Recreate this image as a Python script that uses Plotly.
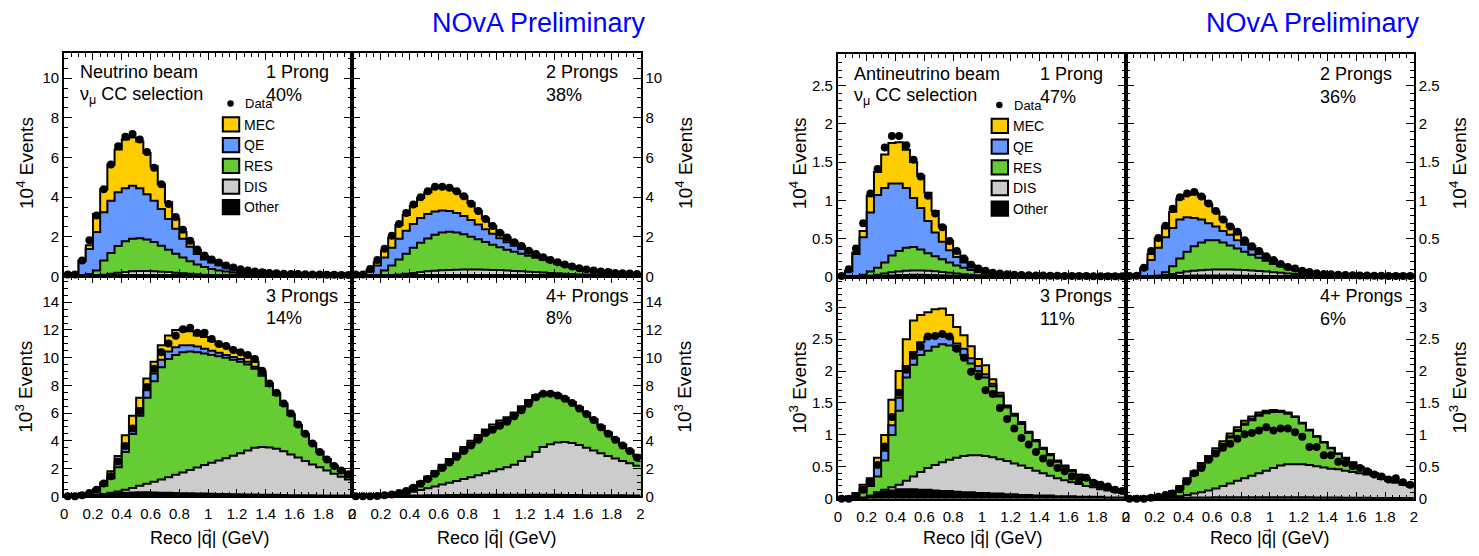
import numpy as np
import plotly.graph_objects as go

W, H = 1479, 556
FONT = "Liberation Sans, Arial, sans-serif"

BIN_WIDTH = 0.05
N_BINS = 40
BIN_EDGES = np.round(np.arange(N_BINS + 1) * BIN_WIDTH, 4)
BIN_CENTERS = BIN_EDGES[:-1] + BIN_WIDTH / 2

# ---------------- Neutrino beam (top: x10^4, bottom: x10^3) ----------------
# 1 Prong
DATA_A = [0.10, 0.10, 0.80, 1.83, 3.07, 4.40, 5.65, 6.56, 7.04, 7.18,
          6.90, 6.28, 5.48, 4.65, 3.65, 3.00, 2.36, 1.80, 1.36, 1.06,
          0.86, 0.70, 0.55, 0.45, 0.37, 0.30, 0.25, 0.21, 0.18, 0.16,
          0.14, 0.13, 0.12, 0.11, 0.10, 0.10, 0.09, 0.09, 0.08, 0.08]
TOT_A = [0.05, 0.10, 0.80, 1.58, 3.15, 4.40, 5.65, 6.40, 6.90, 7.00,
         6.80, 6.23, 5.56, 4.65, 3.74, 2.90, 2.24, 1.74, 1.33, 1.03,
         0.83, 0.66, 0.53, 0.43, 0.35, 0.28, 0.23, 0.19, 0.16, 0.14,
         0.12, 0.11, 0.10, 0.09, 0.08, 0.08, 0.07, 0.07, 0.06, 0.06]
QE_A = [0.05, 0.10, 0.78, 1.38, 2.24, 3.24, 3.82, 4.24, 4.45, 4.57,
        4.45, 4.15, 3.82, 3.40, 2.90, 2.40, 1.90, 1.50, 1.13, 0.86,
        0.70, 0.56, 0.45, 0.37, 0.30, 0.25, 0.20, 0.17, 0.14, 0.12,
        0.10, 0.09, 0.08, 0.08, 0.07, 0.07, 0.06, 0.06, 0.05, 0.05]
RES_A = [0.00, 0.00, 0.05, 0.12, 0.30, 0.80, 1.18, 1.53, 1.78, 1.90,
         1.93, 1.86, 1.74, 1.55, 1.35, 1.15, 0.96, 0.77, 0.60, 0.48,
         0.38, 0.30, 0.25, 0.20, 0.16, 0.13, 0.11, 0.09, 0.08, 0.07,
         0.06, 0.05, 0.05, 0.04, 0.04, 0.04, 0.03, 0.03, 0.03, 0.03]
DIS_A = [0.00, 0.00, 0.00, 0.02, 0.05, 0.09, 0.14, 0.19, 0.23, 0.26,
         0.27, 0.27, 0.26, 0.24, 0.22, 0.19, 0.16, 0.14, 0.11, 0.09,
         0.07, 0.06, 0.05, 0.04, 0.03, 0.03, 0.02, 0.02, 0.02, 0.02,
         0.01, 0.01, 0.01, 0.01, 0.01, 0.01, 0.01, 0.01, 0.01, 0.01]
OTH_A = [0.00, 0.00, 0.00, 0.00, 0.01, 0.02, 0.04, 0.05, 0.06, 0.07,
         0.07, 0.07, 0.07, 0.06, 0.06, 0.05, 0.04, 0.04, 0.03, 0.03,
         0.02, 0.02, 0.02, 0.01, 0.01, 0.01, 0.01, 0.01, 0.01, 0.01,
         0.00, 0.00, 0.00, 0.00, 0.00, 0.00, 0.00, 0.00, 0.00, 0.00]
# 2 Prongs
DATA_B = [0.10, 0.10, 0.38, 0.83, 1.40, 2.05, 2.65, 3.20, 3.63, 4.00,
          4.30, 4.52, 4.52, 4.47, 4.30, 4.05, 3.67, 3.30, 2.90, 2.55,
          2.20, 1.97, 1.72, 1.53, 1.30, 1.13, 0.97, 0.83, 0.72, 0.60,
          0.50, 0.42, 0.35, 0.30, 0.25, 0.22, 0.18, 0.16, 0.15, 0.13]
TOT_B = [0.08, 0.10, 0.32, 0.72, 1.30, 1.95, 2.60, 3.10, 3.55, 3.95,
         4.25, 4.45, 4.50, 4.45, 4.30, 4.05, 3.70, 3.30, 2.92, 2.55,
         2.22, 1.97, 1.73, 1.52, 1.31, 1.13, 0.97, 0.83, 0.71, 0.60,
         0.50, 0.42, 0.36, 0.30, 0.26, 0.22, 0.19, 0.17, 0.15, 0.13]
QE_B = [0.08, 0.10, 0.25, 0.55, 0.95, 1.45, 1.90, 2.30, 2.65, 2.95,
        3.15, 3.28, 3.32, 3.30, 3.20, 3.05, 2.85, 2.62, 2.38, 2.15,
        1.93, 1.73, 1.55, 1.38, 1.21, 1.06, 0.92, 0.79, 0.68, 0.58,
        0.48, 0.40, 0.34, 0.29, 0.25, 0.21, 0.18, 0.16, 0.14, 0.12]
RES_B = [0.00, 0.00, 0.02, 0.08, 0.30, 0.55, 0.85, 1.15, 1.45, 1.70,
         1.92, 2.10, 2.22, 2.25, 2.22, 2.13, 2.00, 1.87, 1.74, 1.60,
         1.47, 1.35, 1.24, 1.14, 1.04, 0.94, 0.84, 0.74, 0.64, 0.55,
         0.46, 0.39, 0.33, 0.28, 0.24, 0.20, 0.17, 0.15, 0.13, 0.11]
DIS_B = [0.00, 0.00, 0.00, 0.01, 0.03, 0.06, 0.10, 0.14, 0.18, 0.22,
         0.26, 0.29, 0.31, 0.33, 0.34, 0.35, 0.35, 0.35, 0.34, 0.33,
         0.32, 0.30, 0.28, 0.26, 0.24, 0.22, 0.20, 0.18, 0.16, 0.14,
         0.12, 0.10, 0.09, 0.08, 0.07, 0.06, 0.05, 0.05, 0.04, 0.04]
OTH_B = [0.00, 0.00, 0.00, 0.00, 0.01, 0.02, 0.03, 0.04, 0.05, 0.06,
         0.07, 0.07, 0.08, 0.08, 0.08, 0.08, 0.08, 0.07, 0.07, 0.07,
         0.06, 0.06, 0.05, 0.05, 0.04, 0.04, 0.04, 0.03, 0.03, 0.03,
         0.02, 0.02, 0.02, 0.02, 0.02, 0.01, 0.01, 0.01, 0.01, 0.01]
# 3 Prongs
DATA_C = [0.00, 0.00, 0.07, 0.24, 0.47, 0.92, 1.45, 2.50, 3.62, 4.88,
          6.15, 7.88, 9.20, 10.39, 11.03, 11.58, 12.05, 12.15, 11.80, 11.80,
          11.34, 10.99, 10.85, 10.56, 10.39, 10.20, 9.90, 9.06, 8.14, 7.47,
          6.69, 5.98, 5.17, 4.51, 3.80, 3.20, 2.66, 2.18, 1.85, 1.59]
TOT_C = [0.00, 0.00, 0.05, 0.20, 0.50, 1.00, 1.80, 2.90, 4.40, 5.80,
         7.10, 8.50, 9.70, 10.90, 11.60, 12.00, 12.05, 11.90, 11.60, 11.50,
         11.20, 10.95, 10.80, 10.55, 10.35, 10.10, 9.70, 9.00, 8.15, 7.45,
         6.70, 5.95, 5.15, 4.50, 3.82, 3.22, 2.68, 2.20, 1.85, 1.55]
QE_C = [0.00, 0.00, 0.05, 0.19, 0.45, 0.88, 1.55, 2.45, 3.65, 5.00,
        6.35, 7.65, 8.85, 9.85, 10.45, 10.75, 10.90, 10.90, 10.80, 10.65,
        10.50, 10.35, 10.20, 10.05, 9.90, 9.70, 9.35, 8.80, 8.02, 7.36,
        6.62, 5.88, 5.12, 4.48, 3.80, 3.21, 2.67, 2.19, 1.84, 1.54]
RES_C = [0.00, 0.00, 0.04, 0.17, 0.40, 0.75, 1.30, 2.10, 3.20, 4.50,
         5.80, 7.10, 8.30, 9.30, 9.90, 10.20, 10.40, 10.45, 10.40, 10.30,
         10.20, 10.10, 10.00, 9.85, 9.70, 9.50, 9.20, 8.70, 7.95, 7.30,
         6.58, 5.85, 5.10, 4.46, 3.79, 3.20, 2.66, 2.18, 1.83, 1.53]
DIS_C = [0.00, 0.00, 0.02, 0.05, 0.10, 0.17, 0.25, 0.35, 0.47, 0.60,
         0.75, 0.90, 1.05, 1.20, 1.38, 1.55, 1.72, 1.90, 2.08, 2.26,
         2.42, 2.58, 2.75, 2.92, 3.10, 3.30, 3.50, 3.56, 3.52, 3.42,
         3.25, 3.02, 2.80, 2.55, 2.30, 2.10, 1.85, 1.62, 1.40, 1.20]
OTH_C = [0.00, 0.00, 0.00, 0.02, 0.06, 0.12, 0.18, 0.22, 0.25, 0.27,
         0.28, 0.28, 0.27, 0.26, 0.25, 0.24, 0.22, 0.21, 0.20, 0.19,
         0.18, 0.17, 0.16, 0.15, 0.14, 0.13, 0.12, 0.11, 0.10, 0.10,
         0.09, 0.08, 0.08, 0.07, 0.07, 0.06, 0.06, 0.05, 0.05, 0.05]
# 4+ Prongs
DATA_D = [0.00, 0.00, 0.00, 0.02, 0.07, 0.12, 0.24, 0.38, 0.61, 0.90,
          1.25, 1.63, 2.03, 2.43, 2.83, 3.26, 3.66, 4.08, 4.56, 4.79,
          5.08, 5.38, 5.78, 6.21, 6.68, 7.15, 7.39, 7.39, 7.27, 7.03,
          6.73, 6.33, 5.93, 5.50, 4.98, 4.51, 4.08, 3.66, 3.26, 2.79]
TOT_D = [0.00, 0.00, 0.00, 0.03, 0.08, 0.15, 0.25, 0.42, 0.70, 1.05,
         1.42, 1.83, 2.27, 2.68, 3.10, 3.55, 4.00, 4.42, 4.82, 5.17,
         5.47, 5.70, 6.05, 6.50, 6.95, 7.30, 7.45, 7.47, 7.35, 7.10,
         6.80, 6.42, 6.00, 5.56, 5.07, 4.60, 4.15, 3.72, 3.30, 2.90]
QE_D = [0.00, 0.00, 0.00, 0.02, 0.07, 0.13, 0.22, 0.37, 0.62, 0.95,
        1.30, 1.70, 2.12, 2.52, 2.93, 3.36, 3.80, 4.22, 4.62, 4.98,
        5.30, 5.55, 5.93, 6.40, 6.87, 7.22, 7.39, 7.42, 7.32, 7.08,
        6.78, 6.41, 5.99, 5.55, 5.06, 4.59, 4.14, 3.71, 3.29, 2.89]
RES_D = [0.00, 0.00, 0.00, 0.02, 0.06, 0.11, 0.19, 0.33, 0.57, 0.88,
         1.22, 1.60, 2.02, 2.42, 2.82, 3.25, 3.69, 4.10, 4.50, 4.86,
         5.18, 5.45, 5.85, 6.32, 6.80, 7.17, 7.35, 7.39, 7.30, 7.06,
         6.77, 6.40, 5.98, 5.55, 5.06, 4.59, 4.14, 3.71, 3.29, 2.89]
DIS_D = [0.00, 0.00, 0.00, 0.00, 0.02, 0.06, 0.12, 0.20, 0.32, 0.45,
         0.58, 0.70, 0.84, 0.97, 1.10, 1.25, 1.38, 1.52, 1.66, 1.80,
         1.95, 2.10, 2.28, 2.55, 2.85, 3.20, 3.55, 3.75, 3.88, 3.92,
         3.85, 3.70, 3.50, 3.30, 3.10, 2.90, 2.72, 2.55, 2.38, 2.20]
OTH_D = [0.00, 0.00, 0.00, 0.00, 0.01, 0.02, 0.03, 0.04, 0.05, 0.06,
         0.07, 0.08, 0.08, 0.09, 0.09, 0.10, 0.10, 0.10, 0.10, 0.10,
         0.10, 0.10, 0.10, 0.10, 0.10, 0.10, 0.10, 0.10, 0.10, 0.09,
         0.09, 0.09, 0.08, 0.08, 0.08, 0.07, 0.07, 0.07, 0.06, 0.06]

# ---------------- Antineutrino beam ----------------
# 1 Prong
DATA_E = [0.013, 0.10, 0.37, 0.70, 1.09, 1.41, 1.69, 1.84, 1.84, 1.72,
          1.53, 1.31, 1.06, 0.83, 0.65, 0.47, 0.34, 0.24, 0.16, 0.11,
          0.08, 0.056, 0.045, 0.035, 0.03, 0.025, 0.022, 0.02, 0.018, 0.016,
          0.015, 0.014, 0.013, 0.012, 0.011, 0.01, 0.01, 0.01, 0.01, 0.009]
TOT_E = [0.01, 0.08, 0.32, 0.60, 1.06, 1.37, 1.60, 1.75, 1.76, 1.66,
         1.50, 1.32, 1.10, 0.86, 0.66, 0.47, 0.33, 0.24, 0.16, 0.11,
         0.08, 0.055, 0.042, 0.033, 0.027, 0.023, 0.02, 0.018, 0.016, 0.015,
         0.014, 0.013, 0.012, 0.011, 0.01, 0.01, 0.009, 0.009, 0.008, 0.008]
QE_E = [0.01, 0.07, 0.30, 0.52, 0.84, 1.07, 1.16, 1.22, 1.22, 1.16,
        1.03, 0.90, 0.73, 0.58, 0.46, 0.35, 0.26, 0.19, 0.13, 0.09,
        0.065, 0.045, 0.035, 0.028, 0.023, 0.02, 0.017, 0.015, 0.014, 0.013,
        0.012, 0.011, 0.01, 0.01, 0.009, 0.009, 0.008, 0.008, 0.007, 0.007]
RES_E = [0.0, 0.0, 0.01, 0.03, 0.07, 0.12, 0.19, 0.28, 0.34, 0.38,
         0.39, 0.36, 0.31, 0.27, 0.23, 0.19, 0.15, 0.12, 0.09, 0.065,
         0.045, 0.032, 0.024, 0.018, 0.014, 0.011, 0.009, 0.008, 0.007, 0.006,
         0.006, 0.005, 0.005, 0.005, 0.004, 0.004, 0.004, 0.004, 0.003, 0.003]
DIS_E = [0.0, 0.0, 0.0, 0.005, 0.015, 0.03, 0.045, 0.06, 0.07, 0.08,
         0.085, 0.085, 0.08, 0.075, 0.065, 0.055, 0.045, 0.035, 0.028, 0.022,
         0.017, 0.013, 0.01, 0.008, 0.006, 0.005, 0.004, 0.004, 0.003, 0.003,
         0.003, 0.002, 0.002, 0.002, 0.002, 0.002, 0.002, 0.002, 0.001, 0.001]
OTH_E = [0.0, 0.0, 0.0, 0.002, 0.005, 0.01, 0.015, 0.02, 0.025, 0.027,
         0.028, 0.028, 0.027, 0.025, 0.022, 0.019, 0.016, 0.013, 0.01, 0.008,
         0.006, 0.005, 0.004, 0.003, 0.002, 0.002, 0.002, 0.001, 0.001, 0.001,
         0.001, 0.001, 0.001, 0.001, 0.001, 0.001, 0.001, 0.001, 0.0, 0.0]
# 2 Prongs
DATA_F = [0.013, 0.017, 0.12, 0.34, 0.51, 0.67, 0.89, 1.04, 1.09, 1.11,
          1.05, 0.96, 0.86, 0.75, 0.66, 0.59, 0.48, 0.40, 0.34, 0.27,
          0.22, 0.17, 0.13, 0.11, 0.08, 0.065, 0.05, 0.04, 0.035, 0.03,
          0.025, 0.022, 0.02, 0.018, 0.016, 0.015, 0.014, 0.013, 0.012, 0.012]
TOT_F = [0.01, 0.015, 0.12, 0.30, 0.50, 0.66, 0.85, 1.02, 1.07, 1.10,
         1.05, 0.95, 0.85, 0.75, 0.66, 0.57, 0.48, 0.40, 0.33, 0.27,
         0.22, 0.17, 0.13, 0.105, 0.08, 0.063, 0.05, 0.04, 0.034, 0.028,
         0.024, 0.021, 0.019, 0.017, 0.015, 0.014, 0.013, 0.012, 0.011, 0.011]
QE_F = [0.01, 0.015, 0.10, 0.22, 0.38, 0.52, 0.64, 0.75, 0.78, 0.77,
        0.75, 0.70, 0.66, 0.60, 0.55, 0.48, 0.42, 0.36, 0.30, 0.25,
        0.20, 0.16, 0.12, 0.10, 0.075, 0.06, 0.047, 0.038, 0.032, 0.027,
        0.023, 0.02, 0.018, 0.016, 0.014, 0.013, 0.012, 0.011, 0.01, 0.01]
RES_F = [0.0, 0.0, 0.0, 0.01, 0.02, 0.06, 0.14, 0.24, 0.33, 0.40,
         0.45, 0.48, 0.48, 0.45, 0.41, 0.37, 0.33, 0.29, 0.25, 0.21,
         0.17, 0.14, 0.11, 0.09, 0.07, 0.055, 0.043, 0.035, 0.029, 0.025,
         0.021, 0.018, 0.016, 0.014, 0.013, 0.012, 0.011, 0.01, 0.009, 0.009]
DIS_F = [0.0, 0.0, 0.0, 0.005, 0.01, 0.025, 0.04, 0.055, 0.07, 0.08,
         0.088, 0.094, 0.097, 0.098, 0.097, 0.094, 0.09, 0.085, 0.078, 0.07,
         0.062, 0.054, 0.046, 0.039, 0.033, 0.027, 0.022, 0.018, 0.015, 0.013,
         0.011, 0.01, 0.009, 0.008, 0.007, 0.006, 0.006, 0.005, 0.005, 0.005]
OTH_F = [0.0, 0.0, 0.0, 0.002, 0.004, 0.008, 0.011, 0.014, 0.016, 0.018,
         0.019, 0.02, 0.02, 0.02, 0.019, 0.018, 0.017, 0.016, 0.014, 0.012,
         0.01, 0.009, 0.008, 0.007, 0.006, 0.005, 0.004, 0.004, 0.003, 0.003,
         0.003, 0.002, 0.002, 0.002, 0.002, 0.002, 0.002, 0.001, 0.001, 0.001]
# 3 Prongs
DATA_G = [0.0, 0.0, 0.04, 0.14, 0.27, 0.53, 0.82, 1.28, 1.66, 2.02,
          2.24, 2.38, 2.54, 2.55, 2.58, 2.54, 2.35, 2.21, 1.99, 1.92,
          1.70, 1.64, 1.42, 1.25, 1.10, 0.95, 0.85, 0.73, 0.63, 0.56,
          0.48, 0.43, 0.35, 0.29, 0.33, 0.25, 0.22, 0.19, 0.14, 0.12]
TOT_G = [0.0, 0.0, 0.09, 0.22, 0.32, 0.64, 1.00, 1.55, 2.00, 2.50,
         2.79, 2.88, 2.92, 2.97, 2.98, 2.88, 2.69, 2.56, 2.39, 2.19,
         2.09, 1.87, 1.66, 1.46, 1.33, 1.20, 1.05, 0.92, 0.80, 0.70,
         0.60, 0.52, 0.45, 0.38, 0.32, 0.27, 0.22, 0.18, 0.15, 0.12]
QE_G = [0.0, 0.0, 0.06, 0.15, 0.28, 0.50, 0.75, 1.15, 1.58, 2.08,
        2.30, 2.45, 2.52, 2.55, 2.58, 2.52, 2.43, 2.35, 2.20, 2.08,
        1.95, 1.80, 1.62, 1.44, 1.31, 1.18, 1.04, 0.91, 0.79, 0.69,
        0.59, 0.51, 0.44, 0.37, 0.31, 0.26, 0.21, 0.17, 0.14, 0.11]
RES_G = [0.0, 0.0, 0.02, 0.10, 0.20, 0.35, 0.60, 1.00, 1.38, 1.90,
         2.10, 2.25, 2.32, 2.38, 2.42, 2.40, 2.33, 2.25, 2.12, 2.00,
         1.90, 1.76, 1.60, 1.43, 1.30, 1.17, 1.03, 0.90, 0.78, 0.68,
         0.58, 0.50, 0.43, 0.36, 0.30, 0.25, 0.20, 0.16, 0.13, 0.10]
DIS_G = [0.0, 0.0, 0.0, 0.02, 0.05, 0.10, 0.14, 0.18, 0.22, 0.28,
         0.35, 0.42, 0.48, 0.53, 0.57, 0.61, 0.64, 0.67, 0.68, 0.68,
         0.67, 0.65, 0.62, 0.59, 0.55, 0.52, 0.48, 0.44, 0.40, 0.36,
         0.32, 0.29, 0.26, 0.23, 0.20, 0.18, 0.15, 0.13, 0.11, 0.09]
OTH_G = [0.0, 0.0, 0.0, 0.01, 0.04, 0.08, 0.11, 0.13, 0.15, 0.15,
         0.15, 0.14, 0.14, 0.13, 0.12, 0.12, 0.11, 0.10, 0.10, 0.09,
         0.09, 0.08, 0.08, 0.07, 0.07, 0.06, 0.06, 0.05, 0.05, 0.05,
         0.04, 0.04, 0.04, 0.03, 0.03, 0.03, 0.03, 0.02, 0.02, 0.02]
# 4+ Prongs
DATA_H = [0.0, 0.0, 0.0, 0.015, 0.03, 0.06, 0.08, 0.15, 0.27, 0.40,
          0.48, 0.61, 0.71, 0.80, 0.86, 0.94, 1.01, 1.03, 1.07, 1.12,
          1.07, 1.10, 1.10, 1.04, 0.97, 0.81, 0.81, 0.68, 0.68, 0.58,
          0.56, 0.51, 0.48, 0.43, 0.38, 0.35, 0.30, 0.32, 0.26, 0.22]
TOT_H = [0.0, 0.0, 0.0, 0.01, 0.03, 0.06, 0.12, 0.20, 0.32, 0.43,
         0.56, 0.67, 0.79, 0.90, 1.02, 1.12, 1.22, 1.29, 1.35, 1.38,
         1.39, 1.38, 1.35, 1.29, 1.19, 1.08, 0.98, 0.89, 0.80, 0.71,
         0.64, 0.57, 0.50, 0.45, 0.40, 0.35, 0.31, 0.27, 0.24, 0.21]
QE_H = [0.0, 0.0, 0.0, 0.01, 0.025, 0.055, 0.11, 0.18, 0.29, 0.39,
        0.52, 0.63, 0.75, 0.86, 0.98, 1.08, 1.18, 1.25, 1.32, 1.36,
        1.375, 1.37, 1.34, 1.285, 1.185, 1.075, 0.975, 0.885, 0.795, 0.705,
        0.635, 0.565, 0.495, 0.445, 0.395, 0.345, 0.305, 0.265, 0.235, 0.205]
RES_H = [0.0, 0.0, 0.0, 0.01, 0.02, 0.05, 0.10, 0.16, 0.27, 0.37,
         0.50, 0.61, 0.73, 0.84, 0.96, 1.06, 1.16, 1.23, 1.30, 1.34,
         1.36, 1.36, 1.33, 1.28, 1.18, 1.07, 0.97, 0.88, 0.79, 0.70,
         0.63, 0.56, 0.49, 0.44, 0.39, 0.34, 0.30, 0.26, 0.23, 0.20]
DIS_H = [0.0, 0.0, 0.0, 0.0, 0.01, 0.02, 0.03, 0.04, 0.06, 0.08,
         0.10, 0.13, 0.16, 0.20, 0.24, 0.28, 0.32, 0.36, 0.40, 0.44,
         0.48, 0.52, 0.54, 0.54, 0.54, 0.53, 0.51, 0.49, 0.47, 0.46,
         0.44, 0.42, 0.40, 0.38, 0.36, 0.31, 0.28, 0.25, 0.22, 0.19]
OTH_H = [0.0, 0.0, 0.0, 0.0, 0.003, 0.006, 0.01, 0.013, 0.016, 0.018,
         0.02, 0.021, 0.022, 0.023, 0.024, 0.024, 0.025, 0.025, 0.025, 0.025,
         0.025, 0.025, 0.024, 0.024, 0.023, 0.022, 0.021, 0.02, 0.019, 0.018,
         0.017, 0.016, 0.015, 0.014, 0.013, 0.012, 0.011, 0.01, 0.01, 0.01]

COMPONENTS = ["MEC", "QE", "RES", "DIS", "Other"]
COLORS = {"MEC": "#ffcc00", "QE": "#6699ff", "RES": "#66cc33",
          "DIS": "#cccccc", "Other": "#000000"}

BEAMS = ["Neutrino beam", "Antineutrino beam"]
PRONG_LABELS = ["1 Prong", "2 Prongs", "3 Prongs", "4+ Prongs"]
FRACTIONS = [["40%", "38%", "14%", "8%"], ["47%", "36%", "11%", "6%"]]

# stacked boundaries (top of MEC, QE, RES, DIS, Other) per panel
PANELS = [
    [(DATA_A, [TOT_A, QE_A, RES_A, DIS_A, OTH_A]),
     (DATA_B, [TOT_B, QE_B, RES_B, DIS_B, OTH_B]),
     (DATA_C, [TOT_C, QE_C, RES_C, DIS_C, OTH_C]),
     (DATA_D, [TOT_D, QE_D, RES_D, DIS_D, OTH_D])],
    [(DATA_E, [TOT_E, QE_E, RES_E, DIS_E, OTH_E]),
     (DATA_F, [TOT_F, QE_F, RES_F, DIS_F, OTH_F]),
     (DATA_G, [TOT_G, QE_G, RES_G, DIS_G, OTH_G]),
     (DATA_H, [TOT_H, QE_H, RES_H, DIS_H, OTH_H])],
]

# layout geometry in pixels
GEOM = [
    dict(x=[60.5, 350, 640], y=[53.5, 280.5, 503.5], yr=[11.28, 15.86], dt=2, mdt=0.5,
         title_x=648, ytitle_l=20.5, ytitle_r=683, xt=[207, 495], legend_x=220),
    dict(x=[838.5, 1128, 1417.5], y=[55, 281, 506], yr=[2.908, 3.474], dt=0.5, mdt=0.1,
         title_x=1426, ytitle_l=798, ytitle_r=1461.5, xt=[984, 1272.5], legend_x=993),
]


def px(x):
    return x / W


def py(y):
    return 1 - y / H


fig = go.Figure()
layout = dict(width=W, height=H, margin=dict(l=0, r=0, t=0, b=0),
              paper_bgcolor="white", plot_bgcolor="white", showlegend=False,
              font=dict(family=FONT, color="black"))
annotations = []
shapes = []

for f, geom in enumerate(GEOM):
    for p in range(4):
        row, col = divmod(p, 2)
        k = f * 4 + p + 1
        xa = "x" if k == 1 else f"x{k}"
        ya = "y" if k == 1 else f"y{k}"
        xdom = [px(geom["x"][col]), px(geom["x"][col + 1])]
        ydom = [py(geom["y"][row + 1]), py(geom["y"][row])]
        tickfont = dict(family=FONT, size=15, color="black")
        layout["xaxis" if k == 1 else f"xaxis{k}"] = dict(
            domain=xdom, anchor=ya, range=[0, 2], tick0=0, dtick=0.2,
            ticks="inside", ticklen=7, tickwidth=1, tickcolor="black",
            showline=True, linecolor="black", linewidth=2, mirror="allticks",
            showgrid=False, zeroline=False, showticklabels=(row == 1),
            tickfont=tickfont, ticklabelstandoff=3,
            minor=dict(dtick=0.05, tick0=0, ticks="inside", ticklen=4,
                       tickcolor="black", tickwidth=1, showgrid=False))
        layout["yaxis" if k == 1 else f"yaxis{k}"] = dict(
            domain=ydom, anchor=xa, range=[0, geom["yr"][row]], tick0=0,
            dtick=geom["dt"], side=("left" if col == 0 else "right"),
            ticks="inside", ticklen=8, tickwidth=1, tickcolor="black",
            showline=True, linecolor="black", linewidth=2, mirror="allticks",
            showgrid=False, zeroline=False, tickfont=tickfont,
            minor=dict(dtick=geom["mdt"], tick0=0, ticks="inside", ticklen=4,
                       tickcolor="black", tickwidth=1, showgrid=False))

        data, tops = PANELS[f][p]
        for name, top in zip(COMPONENTS, tops):
            yv = np.append(np.asarray(top, float), top[-1])
            fig.add_trace(go.Scatter(
                x=BIN_EDGES, y=yv, mode="lines",
                line=dict(shape="hv", color="black", width=2),
                fill="tozeroy", fillcolor=COLORS[name],
                xaxis=xa, yaxis=ya, hoverinfo="skip", name=name))
        fig.add_trace(go.Scatter(
            x=BIN_CENTERS, y=data, mode="markers",
            marker=dict(color="black", size=8, symbol="circle"),
            cliponaxis=False, xaxis=xa, yaxis=ya, name="Data"))

        # prong label and fraction
        lx = geom["x"][col] + (201 if col == 0 else 193)
        ly = geom["y"][row] + (20 if row == 0 else 19.5)
        annotations.append(dict(text=PRONG_LABELS[p], x=px(lx), y=py(ly),
                                xref="paper", yref="paper", xanchor="left",
                                yanchor="middle", showarrow=False,
                                font=dict(family=FONT, size=18, color="black")))
        annotations.append(dict(text=FRACTIONS[f][p], x=px(lx), y=py(ly + 23),
                                xref="paper", yref="paper", xanchor="left",
                                yanchor="middle", showarrow=False,
                                font=dict(family=FONT, size=18, color="black")))

    # beam text
    bx = geom["x"][0] + 14
    by = geom["y"][0] + 20
    annotations.append(dict(text=BEAMS[f], x=px(bx), y=py(by), xref="paper", yref="paper",
                            xanchor="left", yanchor="middle", showarrow=False,
                            font=dict(family=FONT, size=18, color="black")))
    annotations.append(dict(text="ν<sub>μ</sub> CC selection", x=px(bx), y=py(by + 23),
                            xref="paper", yref="paper", xanchor="left", yanchor="middle",
                            showarrow=False, font=dict(family=FONT, size=18, color="black")))
    # title
    annotations.append(dict(text="NOvA Preliminary", x=px(geom["title_x"]), y=py(23),
                            xref="paper", yref="paper", xanchor="right", yanchor="middle",
                            showarrow=False, font=dict(family=FONT, size=27, color="#0000ff")))
    # axis titles
    for row, lab in enumerate(["10<sup>4</sup> Events", "10<sup>3</sup> Events"]):
        yc = (geom["y"][row] + geom["y"][row + 1]) / 2 + (-2 if row == 0 else 0)
        for xc in (geom["ytitle_l"], geom["ytitle_r"]):
            annotations.append(dict(text=lab, x=px(xc), y=py(yc), xref="paper", yref="paper",
                                    xanchor="center", yanchor="middle", textangle=-90,
                                    showarrow=False,
                                    font=dict(family=FONT, size=19, color="black")))
    for xc in geom["xt"]:
        annotations.append(dict(text="Reco |q| (GeV)", x=px(xc), y=py(546),
                                xref="paper", yref="paper", xanchor="center", yanchor="middle",
                                showarrow=False, font=dict(family=FONT, size=18, color="black")))
        # vector arrow above the q
        annotations.append(dict(text="→", x=px(xc - 2.5), y=py(538),
                                xref="paper", yref="paper", xanchor="center", yanchor="middle",
                                showarrow=False,
                                font=dict(family="DejaVu Sans, sans-serif", size=10,
                                          color="black")))

    # legend (drawn in the 1-prong panel)
    lx0 = geom["legend_x"]
    ly0 = geom["y"][0] + 51.5
    shapes.append(dict(type="circle", xref="paper", yref="paper",
                       x0=px(lx0 + 4.5), x1=px(lx0 + 11), y0=py(ly0 + 3.3), y1=py(ly0 - 3.3),
                       fillcolor="black", line=dict(color="black", width=0)))
    annotations.append(dict(text="Data", x=px(lx0 + 20.5), y=py(ly0 + 0.5), xref="paper",
                            yref="paper", xanchor="left", yanchor="middle", showarrow=False,
                            font=dict(family=FONT, size=13, color="black")))
    for i, name in enumerate(COMPONENTS):
        yt = ly0 + 14 + i * 21
        shapes.append(dict(type="rect", xref="paper", yref="paper",
                           x0=px(lx0), x1=px(lx0 + 16.5), y0=py(yt + 14.5), y1=py(yt),
                           fillcolor=COLORS[name], line=dict(color="black", width=2)))
        annotations.append(dict(text=name, x=px(lx0 + 19.5), y=py(yt + 7.5), xref="paper",
                                yref="paper", xanchor="left", yanchor="middle",
                                showarrow=False, font=dict(family=FONT, size=14, color="black")))

layout["annotations"] = annotations
layout["shapes"] = shapes
fig.update_layout(**layout)
fig.write_html("out.html")
